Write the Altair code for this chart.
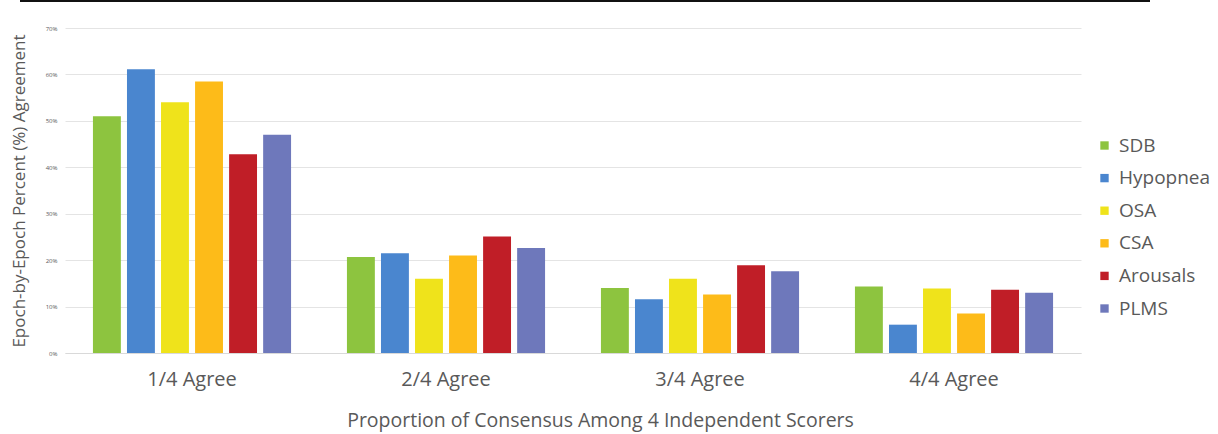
import altair as alt
import pandas as pd

# Consensus levels on the x axis
groups = ["1/4 Agree", "2/4 Agree", "3/4 Agree", "4/4 Agree"]

# Event types scored
series = ["SDB", "Hypopnea", "OSA", "CSA", "Arousals", "PLMS"]
colors = ["#8DC43F", "#4A86CF", "#EFE31B", "#FDBB19", "#C01E27", "#6E78BB"]

# Epoch-by-epoch agreement (%) per event type, one value per consensus level
sdb = [51.0, 20.7, 14.0, 14.3]
hypopnea = [61.1, 21.5, 11.6, 6.1]
osa = [54.0, 16.0, 16.0, 13.9]
csa = [58.5, 21.0, 12.6, 8.5]
arousals = [42.8, 25.1, 18.9, 13.6]
plms = [47.0, 22.6, 17.6, 13.0]

values = [sdb, hypopnea, osa, csa, arousals, plms]
rows = []
for name, vals in zip(series, values):
    for g, v in zip(groups, vals):
        rows.append({"group": g, "series": name, "value": v})
df = pd.DataFrame(rows)

FONT = "Open Sans"
GRAY = "#595959"

bars = alt.Chart(df).mark_bar().encode(
    x=alt.X(
        "group:N",
        sort=groups,
        scale=alt.Scale(paddingInner=0.22, paddingOuter=0.11),
        axis=alt.Axis(
            title="Proportion of Consensus Among 4 Independent Scorers",
            labelAngle=0,
            labelFontSize=20,
            labelColor=GRAY,
            labelFont=FONT,
            labelPadding=16,
            titleFontSize=19.5,
            titleFont=FONT,
            titleColor=GRAY,
            titleFontWeight="normal",
            titlePadding=22,
            titleX=535,
            ticks=False,
            domainColor="#D9D9D9",
            grid=False,
        ),
    ),
    xOffset=alt.XOffset("series:N", sort=series, scale=alt.Scale(paddingInner=0.18)),
    y=alt.Y(
        "value:Q",
        scale=alt.Scale(domain=[0, 70], nice=False),
        axis=alt.Axis(
            title="Epoch-by-Epoch Percent (%) Agreement",
            values=[0, 10, 20, 30, 40, 50, 60, 70],
            labelExpr="datum.value + '%'",
            labelFontSize=6,
            labelColor=GRAY,
            labelFont=FONT,
            labelPadding=8,
            titleFontSize=17,
            titleFont=FONT,
            titleColor=GRAY,
            titleFontWeight="normal",
            titlePadding=17,
            ticks=False,
            domain=False,
            gridColor="#E4E4E4",
        ),
    ),
    color=alt.Color(
        "series:N",
        sort=series,
        scale=alt.Scale(domain=series, range=colors),
        legend=alt.Legend(
            title=None,
            orient="none",
            legendX=1030,
            legendY=108,
            symbolType="square",
            symbolSize=70,
            symbolStrokeWidth=0,
            labelFontSize=19,
            labelFont=FONT,
            labelColor=GRAY,
            labelOffset=5,
            rowPadding=12.6,
        ),
    ),
)

# thin dark rule along the top edge
top_rule = alt.Chart(pd.DataFrame({"a": [0]})).mark_rule(
    color="#111111", strokeWidth=2
).encode(x=alt.value(-45), x2=alt.value(1085), y=alt.value(-27))

chart = alt.layer(bars, top_rule).properties(
    width=1016,
    height=325,
    padding={"left": 65, "top": 28, "right": 137, "bottom": 81},
    autosize=alt.AutoSizeParams(type="none"),
    background="white",
).configure_view(stroke=None)

chart.save("out.html", embed_options={"renderer": "svg", "actions": False})
